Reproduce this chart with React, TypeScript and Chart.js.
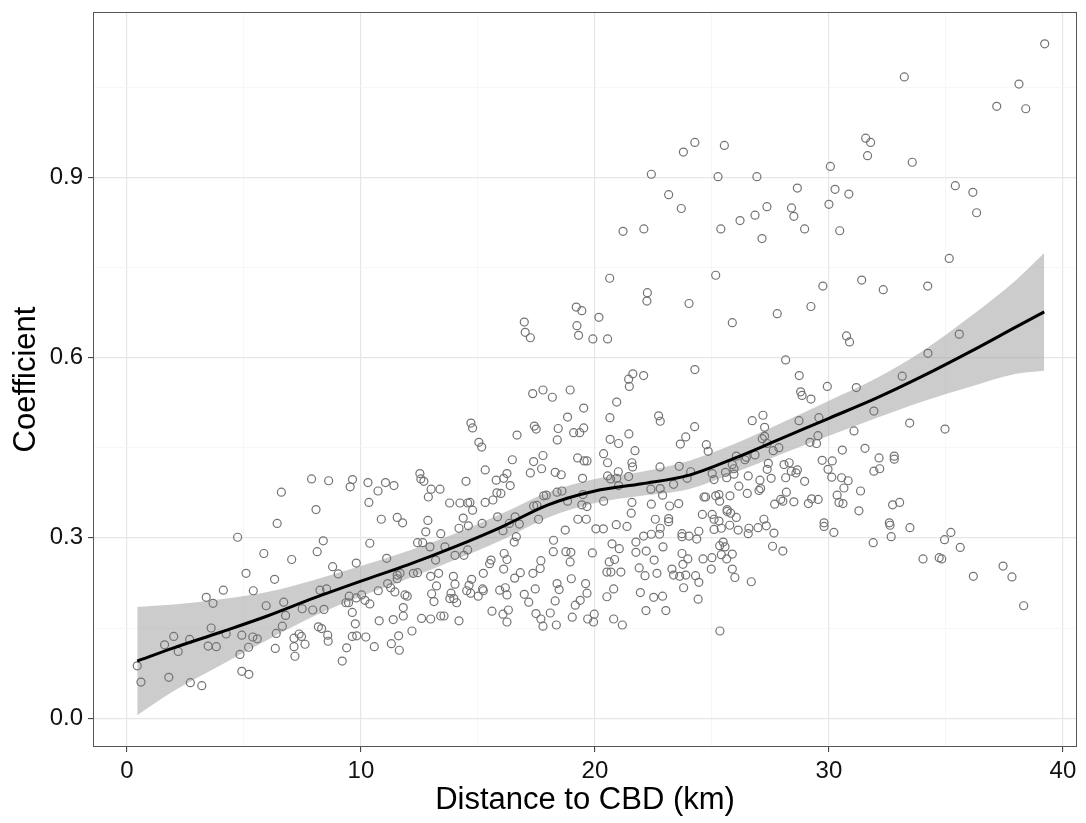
import React, { useEffect, useRef } from 'react';
import { Chart, registerables } from 'chart.js';

Chart.register(...registerables);

// Axis ticks (major labelled, minor only as grid lines)
const xTicks = [0, 5, 10, 15, 20, 25, 30, 35, 40];
const xMajor = [0, 10, 20, 30, 40];
const yTicks = [0, 0.15, 0.3, 0.45, 0.6, 0.75, 0.9, 1.05];
const yMajor = [0, 0.3, 0.6, 0.9];

// Loess smooth and its confidence band
const smoothX = [0.44, 2, 4, 6, 8, 10, 12, 14, 16, 18, 20, 22, 24, 26, 28, 30, 32, 34, 36, 38, 39.2];
const smoothY = [0.095, 0.117, 0.143, 0.17, 0.2, 0.228, 0.255, 0.285, 0.318, 0.355, 0.378, 0.39, 0.404, 0.433, 0.466, 0.499, 0.532, 0.569, 0.609, 0.651, 0.676];
const bandUpper = [0.185, 0.189, 0.198, 0.21, 0.23, 0.253, 0.278, 0.307, 0.34, 0.376, 0.398, 0.41, 0.428, 0.457, 0.492, 0.528, 0.565, 0.611, 0.667, 0.729, 0.774];
const bandLower = [0.005, 0.045, 0.088, 0.13, 0.17, 0.203, 0.232, 0.263, 0.296, 0.334, 0.358, 0.37, 0.381, 0.409, 0.44, 0.47, 0.499, 0.527, 0.551, 0.573, 0.578];

// Observations [distance km, coefficient]
const obsNear: [number, number][] = [
  [0.44, 0.087], [0.6, 0.06], [1.79, 0.068], [2.71, 0.059], [3.2, 0.054],
  [1.61, 0.122], [2.0, 0.136], [2.19, 0.111], [2.68, 0.131], [3.47, 0.12], [3.82, 0.119],
  [3.6, 0.15], [4.24, 0.14], [4.91, 0.138], [5.38, 0.135], [5.57, 0.132], [5.2, 0.118], [4.83, 0.106], [4.91, 0.078], [5.21, 0.073],
  [5.95, 0.187], [6.7, 0.193], [6.78, 0.171], [6.64, 0.153], [6.38, 0.141], [6.34, 0.116],
  [5.09, 0.241], [6.31, 0.231], [5.4, 0.212], [4.12, 0.213], [3.39, 0.201], [3.68, 0.191],
  [5.85, 0.274], [4.73, 0.301], [6.42, 0.324], [6.6, 0.376],
];

const obsInner: [number, number][] = [
  [10.87, 0.331], [11.55, 0.334], [11.78, 0.325], [12.86, 0.329], [12.77, 0.31], [13.41, 0.307], [14.37, 0.333], [14.19, 0.316], [14.59, 0.32], [15.18, 0.324],
  [7.04, 0.264], [8.13, 0.277], [8.39, 0.295], [8.79, 0.252], [9.03, 0.24], [9.8, 0.258], [10.38, 0.291], [11.1, 0.266],
  [12.42, 0.292], [12.64, 0.292], [12.95, 0.285], [13.59, 0.285], [13.19, 0.263], [14.02, 0.271], [14.4, 0.271], [14.56, 0.28],
  [8.25, 0.213], [8.53, 0.215], [7.49, 0.182], [7.94, 0.18], [8.42, 0.181],
  [9.5, 0.203], [10.03, 0.205], [9.36, 0.192], [9.47, 0.192], [10.17, 0.196], [10.38, 0.19], [9.8, 0.2],
  [9.63, 0.176], [9.76, 0.157], [9.63, 0.136], [9.82, 0.137], [10.21, 0.135], [10.57, 0.119], [9.39, 0.117], [9.2, 0.095],
  [8.18, 0.152], [8.32, 0.149], [8.58, 0.138], [8.6, 0.128],
  [7.36, 0.14], [7.46, 0.136], [7.61, 0.123], [7.14, 0.133], [7.14, 0.119], [7.18, 0.103],
  [10.74, 0.212], [11.14, 0.224], [11.27, 0.217], [11.45, 0.21], [11.55, 0.238], [11.67, 0.241], [11.55, 0.232], [11.88, 0.205], [11.98, 0.203],
  [12.24, 0.241], [12.42, 0.242], [12.98, 0.236], [13.32, 0.241], [13.23, 0.22], [13.02, 0.207], [13.12, 0.194],
  [13.95, 0.236], [14.02, 0.223], [13.85, 0.208], [13.8, 0.199], [13.97, 0.199], [14.09, 0.192],
  [14.73, 0.231], [14.62, 0.221], [14.52, 0.212], [14.69, 0.208], [15.01, 0.203], [15.2, 0.215], [15.23, 0.212], [15.23, 0.241],
  [11.81, 0.184], [11.81, 0.17], [11.38, 0.164], [10.78, 0.162], [12.18, 0.145], [12.59, 0.166], [12.98, 0.165], [13.41, 0.17], [13.55, 0.17], [14.19, 0.162],
  [11.3, 0.124], [11.61, 0.137], [11.64, 0.113],
  [14.7, 0.491], [14.77, 0.483], [15.04, 0.459], [15.16, 0.451], [15.31, 0.413], [7.89, 0.398], [8.62, 0.395], [9.64, 0.397], [9.54, 0.385], [10.3, 0.392],
  [10.73, 0.378], [11.05, 0.392], [11.41, 0.387], [10.34, 0.359], [12.52, 0.407], [12.56, 0.398], [12.69, 0.394], [13.0, 0.381], [13.38, 0.381], [12.88, 0.368],
  [14.49, 0.394], [13.79, 0.358], [14.23, 0.358], [14.56, 0.358], [14.66, 0.359], [15.31, 0.359], [8.08, 0.347], [14.77, 0.346],
];

const obsMiddle: [number, number][] = [
  [19.2, 0.684], [19.44, 0.678], [22.22, 0.694], [16.98, 0.659], [17.02, 0.642], [17.24, 0.633], [19.23, 0.653], [19.3, 0.637], [20.17, 0.667], [19.91, 0.631], [20.54, 0.631],
  [21.62, 0.573], [21.44, 0.564], [21.47, 0.552], [22.08, 0.57],
  [17.34, 0.54], [17.78, 0.546], [18.18, 0.534], [18.94, 0.546], [19.52, 0.516], [18.83, 0.501], [20.93, 0.526], [20.64, 0.5], [22.72, 0.503], [22.79, 0.494],
  [17.41, 0.486], [17.49, 0.481], [18.43, 0.482], [16.67, 0.471], [18.39, 0.463], [19.09, 0.475], [19.35, 0.475], [19.52, 0.483], [20.65, 0.464], [21.01, 0.457], [21.45, 0.473],
  [23.65, 0.456], [21.71, 0.445], [20.37, 0.44], [20.54, 0.425], [21.58, 0.425], [21.61, 0.418], [22.78, 0.418], [23.6, 0.419],
  [17.78, 0.437], [17.38, 0.427], [17.72, 0.415], [17.24, 0.408], [16.47, 0.43], [19.26, 0.433], [19.54, 0.428], [19.66, 0.428],
  [18.3, 0.409], [18.56, 0.405], [19.47, 0.399], [20.54, 0.403], [20.67, 0.398], [20.93, 0.399], [21.0, 0.41], [21.44, 0.402], [21.01, 0.387],
  [15.78, 0.396], [16.1, 0.399], [16.24, 0.407], [16.38, 0.387], [15.81, 0.375], [15.98, 0.374], [15.64, 0.363],
  [17.81, 0.37], [17.92, 0.371], [18.38, 0.376], [18.59, 0.378], [18.83, 0.361], [17.52, 0.354], [17.38, 0.353], [19.49, 0.372], [20.37, 0.361], [19.66, 0.352], [19.44, 0.355], [21.58, 0.359],
  [22.39, 0.381], [22.79, 0.382], [22.89, 0.371], [23.36, 0.389], [23.58, 0.357], [23.19, 0.353], [22.41, 0.356],
  [15.84, 0.335], [16.59, 0.335], [16.34, 0.324], [16.77, 0.323], [16.07, 0.312], [17.59, 0.331], [16.64, 0.302], [16.55, 0.293], [18.73, 0.313], [19.27, 0.331],
  [19.63, 0.331], [20.04, 0.315], [20.36, 0.315], [20.91, 0.322], [21.37, 0.319], [21.55, 0.341],
  [22.58, 0.331], [23.15, 0.332], [23.15, 0.327], [22.79, 0.316], [22.76, 0.306], [22.41, 0.306], [22.08, 0.303], [21.75, 0.293], [23.72, 0.307], [23.72, 0.302],
  [18.23, 0.296], [18.22, 0.277], [18.76, 0.277], [18.97, 0.276], [19.89, 0.275], [20.73, 0.29], [21.04, 0.282], [21.75, 0.276], [22.19, 0.278], [22.91, 0.285], [23.72, 0.274],
  [16.12, 0.274], [16.24, 0.264], [15.56, 0.263], [15.5, 0.257], [17.69, 0.262], [17.66, 0.249], [18.94, 0.26], [20.61, 0.26], [20.84, 0.264], [22.53, 0.263], [23.76, 0.256],
  [16.1, 0.248], [16.81, 0.242], [16.57, 0.233], [17.35, 0.241], [20.51, 0.243], [20.68, 0.243], [21.11, 0.243], [21.89, 0.25], [22.14, 0.237], [22.65, 0.241], [23.29, 0.248], [23.36, 0.238], [23.62, 0.236],
  [18.99, 0.232], [18.38, 0.224], [18.47, 0.214], [19.6, 0.224], [19.66, 0.208],
  [17.45, 0.215], [16.98, 0.206], [17.17, 0.193], [16.17, 0.217], [15.93, 0.213], [16.24, 0.205],
  [18.3, 0.195], [19.37, 0.196], [19.16, 0.188], [20.8, 0.215], [20.51, 0.202], [21.94, 0.209], [22.51, 0.201], [22.89, 0.203], [23.79, 0.217],
  [15.6, 0.178], [16.3, 0.18], [16.07, 0.173], [16.24, 0.16], [17.48, 0.174], [17.69, 0.165], [17.78, 0.153], [18.09, 0.175], [18.35, 0.155],
  [19.03, 0.168], [19.69, 0.165], [19.97, 0.173], [19.94, 0.16], [20.8, 0.165], [21.17, 0.155], [22.18, 0.179], [23.03, 0.179],
  [23.78, 0.942], [24.27, 0.958], [22.41, 0.905], [23.15, 0.871], [23.69, 0.848], [21.2, 0.81], [22.09, 0.814], [20.63, 0.732], [22.24, 0.708],
];

const obsOuter: [number, number][] = [
  [24.59, 0.339], [25.01, 0.339], [25.09, 0.331], [25.3, 0.328], [25.65, 0.344], [25.8, 0.341], [26.04, 0.334],
  [24.02, 0.303], [24.44, 0.311], [24.35, 0.298],
  [25.09, 0.314], [25.4, 0.316], [25.76, 0.321], [26.12, 0.313], [26.55, 0.307], [26.58, 0.316], [26.97, 0.317], [27.22, 0.331], [27.32, 0.32], [27.65, 0.308],
  [29.79, 0.325], [29.79, 0.319], [30.21, 0.309], [31.89, 0.292],
  [25.33, 0.287], [25.48, 0.293], [25.56, 0.285], [25.4, 0.272], [25.87, 0.273], [25.63, 0.265],
  [23.97, 0.265], [24.62, 0.265], [25.0, 0.267],
  [24.97, 0.248], [25.87, 0.248], [25.98, 0.234], [26.68, 0.227], [27.59, 0.286], [28.03, 0.278],
  [23.88, 0.238], [24.3, 0.237], [24.44, 0.226], [24.41, 0.198], [25.34, 0.145],
  [24.02, 0.69], [25.87, 0.658], [27.79, 0.673], [29.23, 0.685], [30.75, 0.636], [30.88, 0.626], [24.27, 0.58], [28.15, 0.596], [28.73, 0.57], [29.93, 0.552],
  [31.17, 0.55], [28.79, 0.543], [28.85, 0.537], [29.23, 0.531], [31.92, 0.511], [26.72, 0.495], [27.18, 0.504], [27.25, 0.484], [28.72, 0.495], [29.57, 0.5],
  [31.07, 0.478], [24.26, 0.485], [23.88, 0.468], [24.76, 0.455], [24.84, 0.444], [27.15, 0.465], [27.25, 0.469], [27.36, 0.457], [27.62, 0.445], [27.86, 0.45],
  [29.19, 0.459], [29.47, 0.457], [29.53, 0.47], [30.57, 0.446], [31.54, 0.449], [32.14, 0.433], [26.04, 0.436], [26.41, 0.43], [26.47, 0.434], [26.84, 0.438],
  [25.87, 0.422], [25.94, 0.406], [24.09, 0.41], [23.94, 0.399], [25.01, 0.407], [25.09, 0.397],
  [25.58, 0.409], [25.63, 0.4], [25.94, 0.415], [27.41, 0.424], [27.36, 0.414], [28.08, 0.422], [28.3, 0.425], [28.39, 0.411], [28.65, 0.413], [28.59, 0.408],
  [29.71, 0.429], [30.14, 0.428], [29.96, 0.414], [30.12, 0.401], [30.54, 0.4], [30.64, 0.383], [30.82, 0.395], [31.35, 0.378], [31.92, 0.411], [32.17, 0.415],
  [26.55, 0.403], [27.05, 0.396], [27.08, 0.382], [27.01, 0.379], [27.53, 0.399], [28.15, 0.4], [28.96, 0.394], [26.15, 0.386], [24.66, 0.368], [24.73, 0.368],
  [25.16, 0.37], [25.3, 0.372], [25.33, 0.361], [25.77, 0.37], [26.51, 0.374], [27.68, 0.356], [27.94, 0.364], [28.03, 0.361], [28.18, 0.376], [28.5, 0.36],
  [29.12, 0.357], [29.26, 0.365], [29.54, 0.364], [30.35, 0.371], [30.43, 0.359], [30.6, 0.357], [25.65, 0.347], [31.28, 0.345],
  [25.53, 0.953], [25.26, 0.901], [26.92, 0.901], [25.38, 0.814], [26.2, 0.828], [26.84, 0.837], [27.35, 0.851], [27.14, 0.798], [25.16, 0.737],
];

const obsFar: [number, number][] = [
  [39.22, 1.122], [33.22, 1.067], [38.12, 1.055], [37.17, 1.018], [38.41, 1.014], [31.57, 0.965], [31.78, 0.958], [31.65, 0.936], [33.56, 0.925], [30.06, 0.918],
  [28.65, 0.882], [30.26, 0.88], [30.85, 0.872], [30.0, 0.855], [28.4, 0.849], [28.5, 0.835], [28.96, 0.814], [30.46, 0.811], [35.4, 0.886], [36.15, 0.875],
  [36.31, 0.841], [35.14, 0.765], [29.74, 0.719], [31.4, 0.729], [32.32, 0.713], [34.22, 0.719],
  [35.57, 0.639], [34.23, 0.607], [33.13, 0.569], [33.45, 0.491], [34.96, 0.481], [32.79, 0.436], [32.79, 0.431], [32.72, 0.355], [33.02, 0.359],
  [32.58, 0.325], [32.61, 0.321], [32.66, 0.302], [33.46, 0.317], [35.21, 0.309], [34.94, 0.297], [35.61, 0.284], [34.02, 0.265], [34.71, 0.267], [34.82, 0.265],
  [36.17, 0.236], [37.44, 0.253], [37.82, 0.235], [38.32, 0.187],
];

const FONT = '"Liberation Sans", Arial, Helvetica, sans-serif';

export default function App() {
  const ref = useRef<HTMLCanvasElement>(null);

  useEffect(() => {
    if (!ref.current) return;
    const isIn = (v: number, list: number[]) => list.some((m) => Math.abs(m - v) < 1e-6);
    const observations = [...obsNear, ...obsInner, ...obsMiddle, ...obsOuter, ...obsFar];

    const panelBorder = {
      id: 'panelBorder',
      afterDatasetsDraw(chart: any) {
        const { ctx, chartArea: a } = chart;
        ctx.save();
        ctx.strokeStyle = '#555555';
        ctx.lineWidth = 1;
        ctx.strokeRect(Math.round(a.left) + 0.5, Math.round(a.top) + 0.5, Math.round(a.right - a.left) - 1, Math.round(a.bottom - a.top) - 1);
        ctx.restore();
      },
    };

    const gridFor = (major: number[]) => ({
      color: (c: any) => (c.tick && isIn(c.tick.value, major) ? '#e6e6e6' : '#f4f4f4'),
      lineWidth: (c: any) => (c.tick && isIn(c.tick.value, major) ? 1.2 : 0.7),
      tickColor: (c: any) => (c.tick && isIn(c.tick.value, major) ? '#333333' : 'rgba(0,0,0,0)'),
      tickLength: 5,
      tickWidth: 1,
      drawTicks: true,
    });

    const chart = new Chart(ref.current, {
      type: 'line',
      data: {
        datasets: [
          {
            data: smoothX.map((x, i) => ({ x, y: bandLower[i] })),
            borderWidth: 0,
            borderColor: 'rgba(0,0,0,0)',
            pointRadius: 0,
            fill: false,
            tension: 0.4,
            cubicInterpolationMode: 'monotone',
            order: 4,
          },
          {
            data: smoothX.map((x, i) => ({ x, y: bandUpper[i] })),
            borderWidth: 0,
            borderColor: 'rgba(0,0,0,0)',
            backgroundColor: 'rgba(153,153,153,0.5)',
            pointRadius: 0,
            fill: 0,
            tension: 0.4,
            cubicInterpolationMode: 'monotone',
            order: 3,
          },
          {
            data: observations.map(([x, y]) => ({ x, y })),
            showLine: false,
            pointRadius: 4,
            pointBorderWidth: 1.2,
            pointBorderColor: '#737373',
            pointBackgroundColor: 'rgba(0,0,0,0)',
            order: 2,
          },
          {
            data: smoothX.map((x, i) => ({ x, y: smoothY[i] })),
            borderColor: '#000000',
            borderWidth: 3,
            pointRadius: 0,
            fill: false,
            tension: 0.4,
            cubicInterpolationMode: 'monotone',
            order: 1,
          },
        ],
      } as any,
      options: {
        animation: false,
        responsive: false,
        maintainAspectRatio: false,
        layout: { padding: { top: 12, right: 9, left: 0, bottom: 0 } },
        plugins: { legend: { display: false }, tooltip: { enabled: false } },
        scales: {
          x: {
            type: 'linear',
            min: -1.45,
            max: 40.6,
            afterBuildTicks: (s: any) => {
              s.ticks = xTicks.map((v) => ({ value: v }));
            },
            afterFit: (s: any) => {
              s.height = 76;
              s.paddingLeft = 0;
              s.paddingRight = 0;
            },
            grid: gridFor(xMajor),
            border: { display: false },
            ticks: {
              autoSkip: false,
              maxRotation: 0,
              padding: 5,
              color: '#111111',
              font: { family: FONT, size: 24 },
              callback: (v: any) => (isIn(Number(v), xMajor) ? String(v) : ''),
            },
            title: {
              display: true,
              text: 'Distance to CBD (km)',
              color: '#000000',
              font: { family: FONT, size: 31 },
              padding: { top: 0, bottom: 4 },
            },
          },
          y: {
            type: 'linear',
            min: -0.048,
            max: 1.175,
            afterBuildTicks: (s: any) => {
              s.ticks = yTicks.map((v) => ({ value: v }));
            },
            afterFit: (s: any) => {
              s.width = 93;
              s.paddingTop = 0;
              s.paddingBottom = 0;
            },
            grid: gridFor(yMajor),
            border: { display: false },
            ticks: {
              autoSkip: false,
              padding: 5,
              color: '#111111',
              font: { family: FONT, size: 24 },
              callback: (v: any) => (isIn(Number(v), yMajor) ? Number(v).toFixed(1) : ''),
            },
            title: {
              display: true,
              text: 'Coefficient',
              color: '#000000',
              font: { family: FONT, size: 31 },
              padding: { top: 8, bottom: 0 },
            },
          },
        },
      } as any,
      plugins: [panelBorder],
    });
    return () => chart.destroy();
  }, []);

  return (
    <div style={{ position: 'absolute', left: 0, top: 0, width: 1086, height: 823, background: '#ffffff' }}>
      <canvas ref={ref} width={1086} height={823} style={{ display: 'block' }} />
    </div>
  );
}
